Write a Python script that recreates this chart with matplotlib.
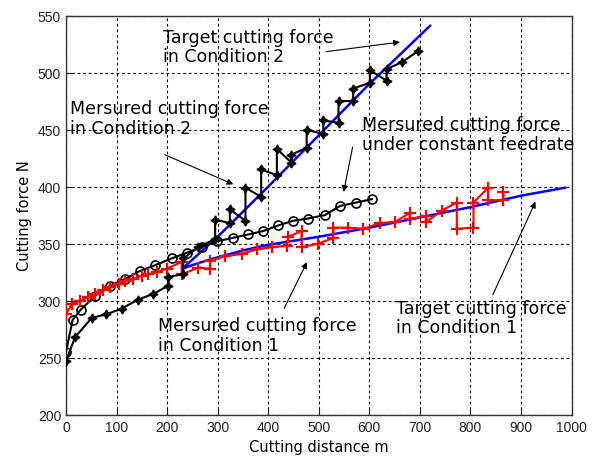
import matplotlib
matplotlib.use("Agg")
import matplotlib.pyplot as plt

# Constant feedrate measured force
cf_x = [0, 13, 29, 57, 87, 117, 146, 176, 209, 239, 268, 298, 330, 360, 390, 420, 449, 479, 512, 542, 574, 605]
cf_y = [255, 283, 292, 304, 313, 319, 326, 331, 337, 342, 347, 352, 355, 358, 361, 366, 370, 372, 375, 383, 386, 389]

# Condition 2 measured force (path incl. vertical steps)
c2_x = [0, 18, 51, 80, 110, 143, 173, 202, 202, 232, 232, 262, 295, 295, 324, 324, 355, 355, 386, 386,
        417, 417, 446, 446, 476, 476, 509, 509, 539, 539, 568, 568, 601, 601, 634, 634, 664, 697]
c2_y = [247, 268, 285, 288, 293, 301, 306, 313, 321, 323, 337, 347, 354, 371, 368, 380, 370, 399, 391, 415,
        410, 433, 421, 428, 434, 450, 446, 458, 456, 475, 475, 486, 491, 502, 493, 503, 509, 519]

# Condition 1 measured force
c1_x = [0, 11, 28, 44, 57, 74, 87, 104, 117, 133, 150, 163, 179, 199, 229, 229, 262, 285, 285, 315,
        348, 377, 407, 437, 440, 466, 466, 499, 529, 529, 558, 588, 621, 651, 680, 680, 713, 713,
        743, 773, 773, 806, 806, 835, 835, 865, 865]
c1_y = [288, 297, 300, 303, 306, 309, 312, 315, 317, 319, 322, 323, 325, 328, 334, 323, 329, 328, 335, 339,
        341, 345, 347, 348, 356, 361, 347, 350, 355, 364, 364, 363, 368, 369, 377, 372, 374, 369,
        379, 386, 363, 364, 386, 399, 388, 388, 395]

# Target forces
t1_x = [230, 262, 300, 350, 400, 500, 600, 700, 800, 900, 987]
t1_y = [328, 333, 338, 344, 349, 356, 364, 373, 382, 392, 399]
t2_x = [230, 300, 400, 500, 600, 720]
t2_y = [328, 356, 400, 445, 490, 541]

x_ticks = list(range(0, 1001, 100))
y_ticks = list(range(200, 551, 50))

fig = plt.figure(figsize=(5.92, 4.6), dpi=100)
ax = fig.add_axes([0.1115, 0.0963, 0.854, 0.8678])

ax.plot(t1_x, t1_y, color='#0000ff', lw=1.8, zorder=2)
ax.plot(t2_x, t2_y, color='#0000ff', lw=1.8, zorder=2)
ax.plot(cf_x, cf_y, color='black', lw=1.5, marker='o', ms=6.5, mfc='none', mec='black', mew=1.2, zorder=3)
ax.plot(c1_x, c1_y, color='#ff0000', lw=1.5, marker='+', ms=8, mew=1.6, zorder=4)
ax.plot(c2_x, c2_y, color='black', lw=1.5, marker=(4, 1, 0), ms=6.5, mfc='black', mec='black', zorder=5)

ax.set_xlim(0, 1000)
ax.set_ylim(200, 550)
ax.set_xticks(x_ticks)
ax.set_yticks(y_ticks)
ax.grid(True, color='black', linestyle=(0, (2.5, 2.5)), lw=0.8)
ax.tick_params(direction='in', length=4, labelsize=10, colors='#222222')
for lab in ax.get_xticklabels() + ax.get_yticklabels():
    lab.set_family('Liberation Sans')
for s in ax.spines.values():
    s.set_linewidth(1.0)
    s.set_color('#333333')

ax.set_xlabel('Cutting distance m', fontsize=10.5, labelpad=4)
ax.set_ylabel('Cutting force N', fontsize=10.5, labelpad=4)

fs = 12.5
ls = 1.1
arrow = dict(arrowstyle='-|>', color='black', lw=0.8, mutation_scale=9)
ax.text(192, 523, 'Target cutting force\nin Condition 2', fontsize=fs, ha='left', va='center', linespacing=ls)
ax.annotate('', xy=(666, 527), xytext=(509, 518), arrowprops=arrow)

ax.text(8, 460, 'Mersured cutting force\nin Condition 2', fontsize=fs, ha='left', va='center', linespacing=ls)
ax.annotate('', xy=(336, 401), xytext=(190, 429), arrowprops=arrow)

ax.text(586, 446, 'Mersured cutting force\nunder constant feedrate', fontsize=fs, ha='left', va='center', linespacing=ls)
ax.annotate('', xy=(548, 393), xytext=(568, 437), arrowprops=arrow)

ax.text(182, 270, 'Mersured cutting force\nin Condition 1', fontsize=fs, ha='left', va='center', linespacing=ls)
ax.annotate('', xy=(479, 336), xytext=(429, 291), arrowprops=arrow)

ax.text(653, 285, 'Target cutting force\nin Condition 1', fontsize=fs, ha='left', va='center', linespacing=ls)
ax.annotate('', xy=(931, 389), xytext=(842, 303), arrowprops=arrow)

fig.savefig('out.png', dpi=100)
